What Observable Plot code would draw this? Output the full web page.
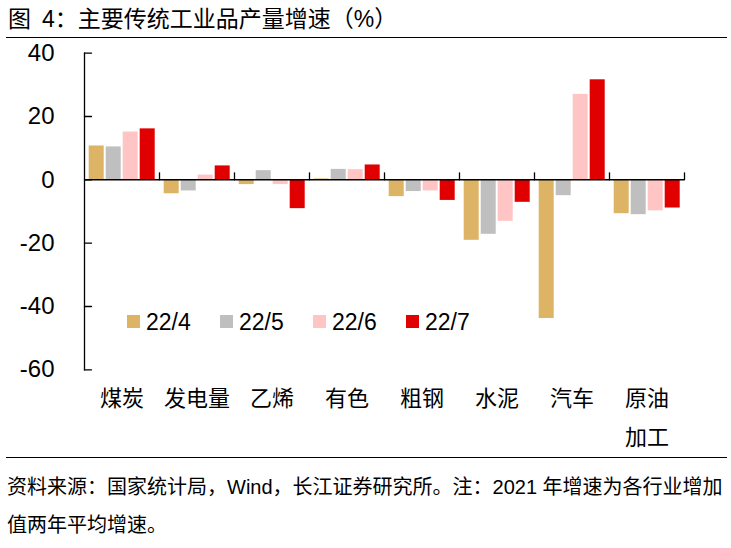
<!DOCTYPE html>
<html><head><meta charset="utf-8">
<script src="https://cdn.jsdelivr.net/npm/d3@7"></script>
<script src="https://cdn.jsdelivr.net/npm/@observablehq/plot@0.6"></script>
<style>
body{margin:0;background:#fff;font-family:"Liberation Sans",Arial,"Noto Sans CJK SC",sans-serif;color:#000;}
#wrap{position:relative;width:731px;height:548px;overflow:hidden;}
#title{position:absolute;left:8px;top:4px;font-size:23px;line-height:30px;white-space:nowrap;}
#title .n{margin-left:11px;}
.hr{position:absolute;left:6px;width:721px;height:0;border-top:1.5px solid #000;}
#chart{position:absolute;left:0;top:40px;}
#legend{position:absolute;left:0;top:0;}
.li{position:absolute;display:flex;align-items:center;font-size:23px;line-height:26px;white-space:nowrap;}
.sw{width:13px;height:13px;margin-right:6px;}
#source{position:absolute;left:7px;top:467.5px;font-size:20px;line-height:38.5px;white-space:nowrap;}
</style></head><body>
<div id="wrap">
 <div id="title">图<span class="n">4：</span>主要传统工业品产量增速（%）</div>
 <div class="hr" style="top:36.5px"></div>
 <div id="chart"></div>
 <div id="legend"></div>
 <div class="hr" style="top:456.5px"></div>
 <div id="source">资料来源：国家统计局，Wind，长江证券研究所。注：2021 年增速为各行业增加<br>值两年平均增速。</div>
</div>
<script>
const categories = ["煤炭","发电量","乙烯","有色","粗钢","水泥","汽车","原油加工"];
const seriesNames = ["22/4","22/5","22/6","22/7"];
const v224 = [10.7,-4.4,-1.5,0.3,-5.3,-19.1,-43.8,-10.7];
const v225 = [10.4,-3.5,2.9,3.3,-3.7,-17.2,-5.0,-11.0];
const v226 = [15.1,1.5,-1.5,3.2,-3.5,-13.1,27.0,-9.8];
const v227 = [16.1,4.4,-9.1,4.7,-6.5,-7.1,31.6,-8.9];
const yTicks = [-60,-40,-20,0,20,40];
const colors = ["#DDB466","#BFBFBF","#FFC4C4","#E00000"];

const seriesValues = [v224,v225,v226,v227];
const data = [];
categories.forEach((c,i)=>seriesValues.forEach((arr,j)=>data.push({cat:c,series:seriesNames[j],value:arr[i]})));
const tickShape = {draw(ctx,l){ctx.moveTo(0,0);ctx.lineTo(0,-l);}};
const font = '"Liberation Sans",Arial,"Noto Sans CJK SC",sans-serif';

const chart = Plot.plot({
  width:731, height:417,
  marginLeft:83.3, marginRight:45.7, marginTop:12.7, marginBottom:87.7,
  style:{fontFamily:font, color:"#000", background:"transparent", overflow:"visible"},
  fx:{domain:categories, padding:0, label:null},
  x:{domain:seriesNames, paddingInner:0.13, paddingOuter:0.23, axis:null},
  y:{domain:[-60,40]},
  color:{domain:seriesNames, range:colors},
  marks:[
    Plot.barY(data,{fx:"cat",x:"series",y:"value",fill:"series"}),
    Plot.ruleY([0],{stroke:"#000",strokeWidth:1.5}),
    Plot.frame({anchor:"left",facetAnchor:"left",stroke:"#000",strokeWidth:1.3}),
    Plot.vector(categories,{fx:d=>d,y:()=>0,frameAnchor:"right",rotate:0,length:7,anchor:"start",shape:tickShape,stroke:"#000",strokeWidth:1.3}),
    Plot.vector(yTicks,{fx:()=>categories[0],y:d=>d,frameAnchor:"left",rotate:90,length:7,anchor:"start",shape:tickShape,stroke:"#000",strokeWidth:1.3}),
    Plot.axisY({ticks:yTicks,anchor:"left",tickSize:0,tickPadding:30,tickFormat:d=>String(d),fontSize:24,label:null}),
    Plot.axisFx({anchor:"bottom",tickSize:0,tickPadding:9,fontSize:22,lineHeight:1.77,label:null,
      tickFormat:d=>d.length===4?d.slice(0,2)+"\n"+d.slice(2):d})
  ]
});
document.getElementById("chart").appendChild(chart);

const legend = document.getElementById("legend");
seriesNames.forEach((s,i)=>{
  const it = document.createElement("div");
  it.className="li";
  it.style.left=(127+93*i)+"px";
  it.style.top=(321.7-13)+"px";
  it.innerHTML='<span class="sw" style="background:'+colors[i]+'"></span><span>'+s+'</span>';
  legend.appendChild(it);
});
</script>
</body></html>
